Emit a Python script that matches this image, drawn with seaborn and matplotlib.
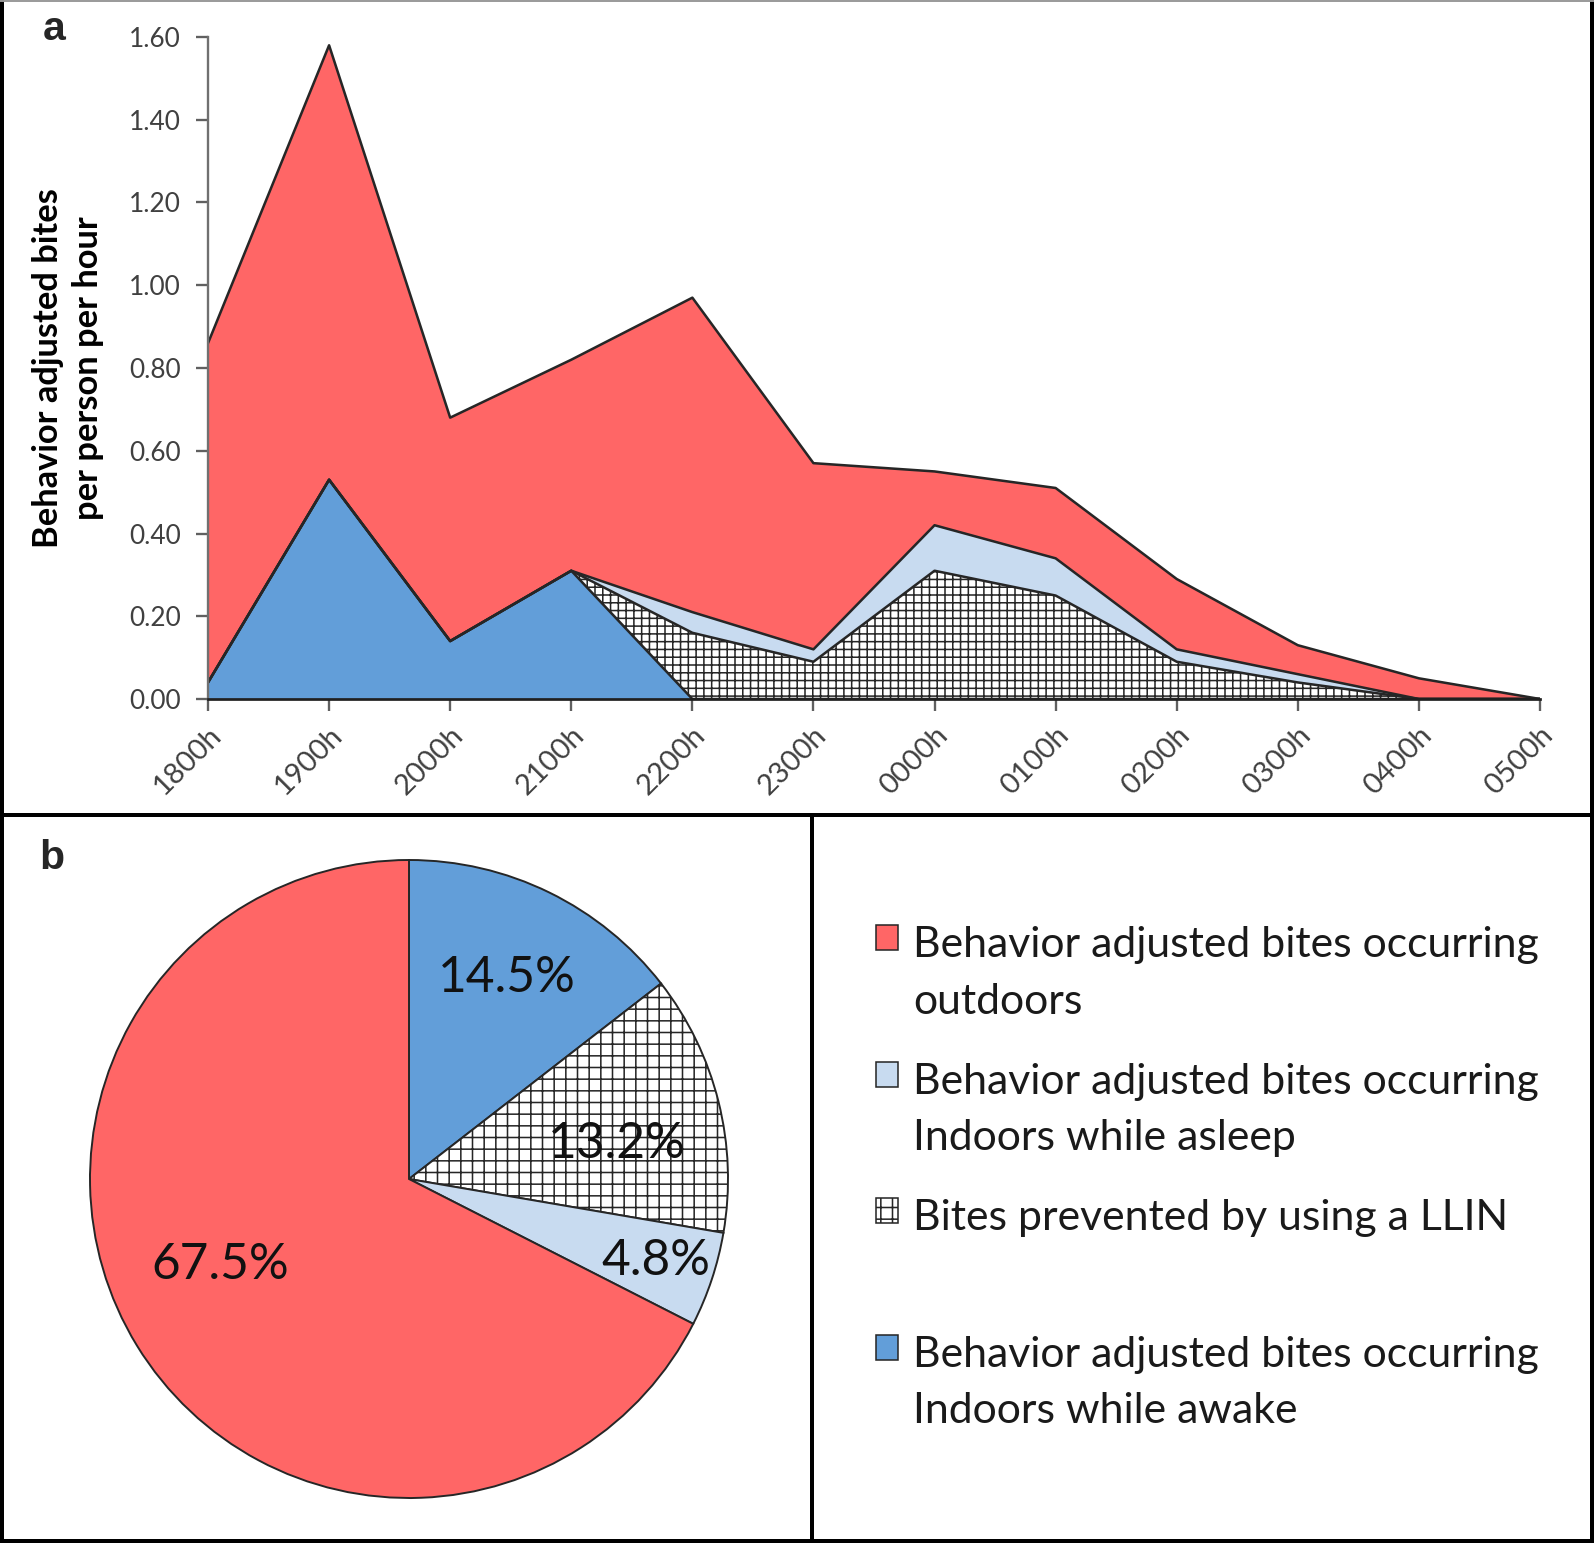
import matplotlib
matplotlib.use("Agg")
import matplotlib.pyplot as plt
import matplotlib.patches as mpatches
from matplotlib.lines import Line2D
from matplotlib.legend_handler import HandlerPatch
import seaborn as sns
import numpy as np

# hourly biting, behaviour adjusted (bites / person / hour)
hours = ["1800h", "1900h", "2000h", "2100h", "2200h", "2300h",
         "0000h", "0100h", "0200h", "0300h", "0400h", "0500h"]
indoor_awake = [0.04, 0.53, 0.14, 0.31, 0.00, 0.00, 0.00, 0.00, 0.00, 0.00, 0.00, 0.00]
llin_prevented = [0.00, 0.00, 0.00, 0.00, 0.16, 0.09, 0.31, 0.25, 0.09, 0.04, 0.00, 0.00]
indoor_asleep = [0.00, 0.00, 0.00, 0.00, 0.05, 0.03, 0.11, 0.09, 0.03, 0.02, 0.00, 0.00]
outdoors = [0.82, 1.05, 0.54, 0.51, 0.76, 0.45, 0.13, 0.17, 0.17, 0.07, 0.05, 0.00]

# share of all bites (%), clockwise from 12 o'clock
pie_pct = [14.5, 13.2, 4.8, 67.5]

legend_labels = [
    "Behavior adjusted bites occurring\noutdoors",
    "Behavior adjusted bites occurring\nIndoors while asleep",
    "Bites prevented by using a LLIN\n",
    "Behavior adjusted bites occurring\nIndoors while awake",
]

RED = "#FF6666"
BLUE = "#629ED9"
LIGHT = "#C8DBF0"
EDGE = "#262626"

sns.set_style("white")
plt.rcParams["font.family"] = ["Lato", "DejaVu Sans"]
plt.rcParams["hatch.linewidth"] = 0.8
plt.rcParams["hatch.color"] = EDGE

DPI = 140
W, H = 1594, 1543
fig = plt.figure(figsize=(W / DPI, H / DPI), dpi=DPI)

# ---- panel a : stacked area ----
ax = fig.add_axes([208 / W, 1 - 699 / H, (1540 - 208) / W, (699 - 37) / H])
x = np.arange(len(hours))
layers = [indoor_awake, llin_prevented, indoor_asleep, outdoors]
ax.stackplot(x, layers, colors=[BLUE, "white", LIGHT, RED],
             hatch=["", "+++", "", ""], edgecolor=EDGE, linewidth=0)
for top in np.cumsum(layers, axis=0):
    sns.lineplot(x=x, y=top, color=EDGE, linewidth=1.3, ax=ax, legend=False)

ax.set_xlim(0, len(hours) - 1)
ax.set_ylim(0, 1.6)
yt = np.arange(0, 1.61, 0.2)
ax.set_yticks(yt, [f"{v:.2f}" for v in yt])
ax.set_xticks(x, hours, rotation=45, ha="right", va="top", rotation_mode="anchor")
sns.despine(ax=ax)
ax.spines["left"].set_color("#707070")
ax.spines["left"].set_linewidth(1.2)
ax.spines["bottom"].set_color("#202020")
ax.spines["bottom"].set_linewidth(1.4)
ax.tick_params(left=True, bottom=True, direction="out", length=6, width=1.2,
               color="#606060", labelsize=13.5, labelcolor="#404040")
ax.tick_params(axis="y", pad=8)
ax.tick_params(axis="x", pad=6, labelsize=15)
ax.set_ylabel("Behavior adjusted bites\nper person per hour", fontsize=17.7,
              fontweight="bold", color="black", linespacing=1.3)
ax.yaxis.set_label_coords(-0.078, 0.5)

# ---- panel b : pie ----
ax2 = fig.add_axes([90 / W, 1 - 1498 / H, 638 / W, 638 / H])
wedges, _ = ax2.pie(pie_pct, colors=[BLUE, "white", LIGHT, RED],
                    hatch=["", "++", "", ""], startangle=90, counterclock=False,
                    wedgeprops=dict(edgecolor=EDGE, linewidth=1.0))
ax2.set_xlim(-1, 1)
ax2.set_ylim(-1, 1)
lab_r = [0.70, 0.66, 0.815, 0.65]
lab_shift = [0, -4.5, 0, -7]
for i, w in enumerate(wedges):
    w.set_clip_on(False)
    th = np.deg2rad((w.theta1 + w.theta2) / 2 + lab_shift[i])
    ax2.text(lab_r[i] * np.cos(th), lab_r[i] * np.sin(th), f"{pie_pct[i]:.1f}%",
             ha="center", va="center", fontsize=25.5, color="#111111")


# ---- legend panel ----
def top_rect(legend, orig_handle, xdescent, ydescent, width, height, fontsize):
    # put the swatch next to the first line of the label
    return mpatches.Rectangle((-xdescent, -ydescent + 0.84 * fontsize), width, height)


handles = [
    mpatches.Patch(facecolor=RED, edgecolor=EDGE, linewidth=0.8),
    mpatches.Patch(facecolor=LIGHT, edgecolor=EDGE, linewidth=0.8),
    mpatches.Patch(facecolor="white", edgecolor=EDGE, linewidth=0.8, hatch="++"),
    mpatches.Patch(facecolor=BLUE, edgecolor=EDGE, linewidth=0.8),
]
leg = fig.legend(handles, legend_labels, loc="upper left",
                 bbox_to_anchor=(876 / W, 1 - 926 / H), frameon=False, fontsize=22,
                 handlelength=0.52, handleheight=0.52, handletextpad=0.35,
                 labelspacing=0.98, borderpad=0, borderaxespad=0,
                 handler_map={mpatches.Patch: HandlerPatch(patch_func=top_rect)})
for t in leg.get_texts():
    t.set_linespacing(1.6)
    t.set_color("#1a1a1a")

# ---- panel letters and frame ----
fig.text(54 / W, 1 - 29 / H, "a", fontsize=21, fontweight="bold",
         family="Liberation Sans", ha="center", va="center")
fig.text(52 / W, 1 - 858 / H, "b", fontsize=21, fontweight="bold",
         family="Liberation Sans", ha="center", va="center")

lw = 4 * 72 / DPI
ymid = 1 - 815 / H
for xs, ys, c, l in [
    ([2 / W, 2 / W], [0, 1], "black", lw),
    ([1592 / W, 1592 / W], [0, 1], "black", lw),
    ([0, 1], [2 / H, 2 / H], "black", lw),
    ([0, 1], [1 - 0.5 / H, 1 - 0.5 / H], "#999999", 1),
    ([0, 1], [ymid, ymid], "black", lw),
    ([812 / W, 812 / W], [0, ymid], "black", lw),
]:
    fig.add_artist(Line2D(xs, ys, color=c, linewidth=l, transform=fig.transFigure))

fig.savefig("out.png", dpi=DPI)
